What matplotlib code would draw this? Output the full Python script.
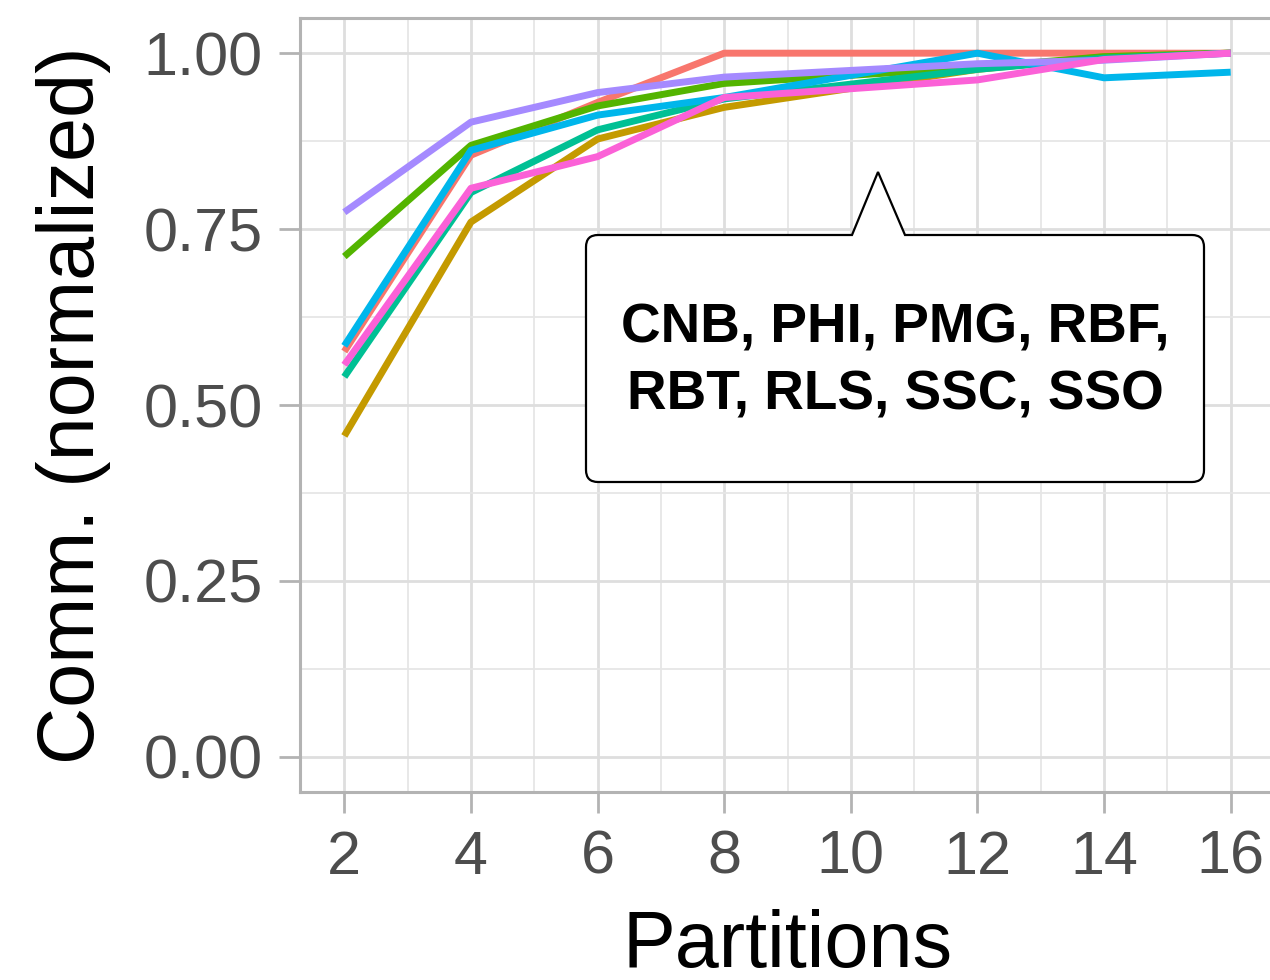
import matplotlib
matplotlib.use("Agg")
import matplotlib.pyplot as plt
from matplotlib.path import Path
from matplotlib.patches import PathPatch
import numpy as np

plt.rcParams['font.family'] = ['Liberation Sans', 'DejaVu Sans']

# ---- data ----
partitions = [2, 4, 6, 8, 12, 14, 16]
series_colors = ["#F8766D", "#C49A00", "#53B400", "#00C094", "#00B6EB", "#A58AFF", "#FB61D7"]
s_red    = [0.576, 0.855, 0.930, 1.000, 1.000, 1.000, 1.000]
s_gold   = [0.456, 0.760, 0.878, 0.923, 0.977, 0.995, 1.000]
s_green  = [0.711, 0.869, 0.925, 0.957, 0.980, 0.995, 1.000]
s_teal   = [0.540, 0.802, 0.891, 0.935, 0.977, 0.993, 1.000]
s_blue   = [0.584, 0.862, 0.912, 0.937, 1.000, 0.965, 0.973]
s_purple = [0.774, 0.902, 0.944, 0.966, 0.985, 0.990, 1.000]
s_pink   = [0.557, 0.808, 0.853, 0.937, 0.962, 0.991, 1.000]
series_values = [s_red, s_gold, s_green, s_teal, s_blue, s_purple, s_pink]
callout_text = "CNB, PHI, PMG, RBF,\nRBT, RLS, SSC, SSO"
x_ticks = [2, 4, 6, 8, 10, 12, 14, 16]
y_ticks = [0.00, 0.25, 0.50, 0.75, 1.00]
y_ticklabels = ["0.00", "0.25", "0.50", "0.75", "1.00"]

W, H = 1270, 980
fig = plt.figure(figsize=(W / 100, H / 100), dpi=100)
# panel in pixel coords: left 300, right 1275, top 18, bottom 792
ax = fig.add_axes([300 / W, (H - 792) / H, (1275 - 300) / W, (792 - 18) / H])
ax.set_facecolor("white")

ax.set_xlim(1.3, 16.7)
ax.set_ylim(-0.05, 1.05)

# grid
for v in x_ticks:
    ax.axvline(v, color="#DEDEDE", lw=2.0, zorder=0)
for v in np.arange(3, 17, 2):
    ax.axvline(v, color="#E6E6E6", lw=1.3, zorder=0)
for v in y_ticks:
    ax.axhline(v, color="#DEDEDE", lw=2.0, zorder=0)
for v in [0.125, 0.375, 0.625, 0.875]:
    ax.axhline(v, color="#E6E6E6", lw=1.3, zorder=0)

for vals, col in zip(series_values, series_colors):
    ax.plot(partitions, vals, color=col, lw=5.0, solid_capstyle="butt",
            solid_joinstyle="round", zorder=3)

for sp in ax.spines.values():
    sp.set_color("#B3B3B3")
    sp.set_linewidth(2.2)

ax.set_xticks(x_ticks)
ax.set_xticklabels([str(t) for t in x_ticks])
ax.set_yticks(y_ticks)
ax.set_yticklabels(y_ticklabels)
ax.tick_params(axis="both", length=15, width=2.0, color="#B3B3B3",
               labelcolor="#4D4D4D", labelsize=44)
ax.tick_params(axis="x", pad=12)
ax.tick_params(axis="y", pad=12)

ax.set_xlabel("Partitions", fontsize=57, color="black", labelpad=16)
ax.set_ylabel("Comm. (normalized)", fontsize=57, color="black", labelpad=23)

# callout bubble (pixel coordinates -> inches)
def P(px, py):
    return (px / 100.0, (H - py) / 100.0)

L, R, T, B = 586, 1204, 235, 482
r = 12
tip = (878, 172)
b1, b2 = 852, 905
verts = [P(L + r, T), P(b1, T), P(*tip), P(b2, T), P(R - r, T),
         P(R, T), P(R, T + r),
         P(R, B - r), P(R, B), P(R - r, B),
         P(L + r, B), P(L, B), P(L, B - r),
         P(L, T + r), P(L, T), P(L + r, T), P(L + r, T)]
codes = [Path.MOVETO, Path.LINETO, Path.LINETO, Path.LINETO, Path.LINETO,
         Path.CURVE3, Path.CURVE3,
         Path.LINETO, Path.CURVE3, Path.CURVE3,
         Path.LINETO, Path.CURVE3, Path.CURVE3,
         Path.LINETO, Path.CURVE3, Path.CURVE3, Path.CLOSEPOLY]
patch = PathPatch(Path(verts, codes), facecolor="white", edgecolor="black",
                  lw=1.6, transform=fig.dpi_scale_trans, zorder=10, joinstyle="miter")
fig.patches.append(patch)
cx, cy = P((L + R) / 2, 362)
fig.text(cx / (W / 100), cy / (H / 100), callout_text, ha="center", va="center",
         fontsize=39.5, fontweight="bold", linespacing=1.36, zorder=11)

fig.savefig("out.png", dpi=100)
